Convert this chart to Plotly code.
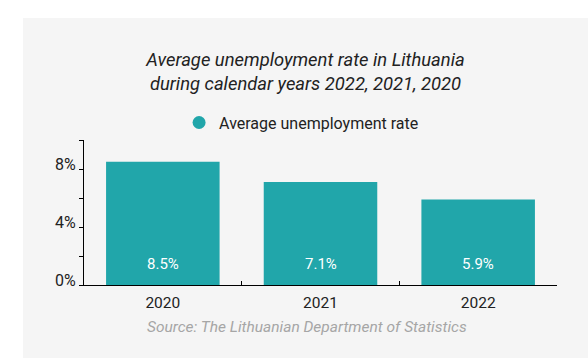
import plotly.graph_objects as go

years = ["2020", "2021", "2022"]
rates = [8.5, 7.1, 5.9]
bar_labels = ["8.5%", "7.1%", "5.9%"]
ytick_vals = [0, 2, 4, 6, 8, 10]
ytick_text = ["0%", "", "4%", "", "8%", ""]
series_name = "Average unemployment rate"
title_text = "Average unemployment rate in Lithuania<br>during calendar years 2022, 2021, 2020"
source_text = "Source: The Lithuanian Department of Statistics"

TEAL = "#21a6aa"
FONT = "Roboto"

fig = go.Figure()
fig.add_trace(go.Bar(x=years, y=rates, marker=dict(color=TEAL, line=dict(width=0)),
                     showlegend=False, hoverinfo="skip"))
fig.add_trace(go.Scatter(x=[years[0]], y=[None], mode="markers", name=series_name,
                         marker=dict(symbol="circle", size=13, color=TEAL),
                         showlegend=True, hoverinfo="skip"))

# value labels near the bar bases (category axis: annotations use category index)
for i, lab in enumerate(bar_labels):
    fig.add_annotation(x=i, y=0, text=lab, showarrow=False, yshift=21,
                       yanchor="middle", font=dict(family=FONT, size=15, color="white"))

fig.add_annotation(xref="paper", yref="paper", x=0.4715, y=-0.29, text=source_text,
                   showarrow=False, xanchor="center", yanchor="middle",
                   font=dict(family=FONT, size=15.5, color="#a6a6a6", style="italic"))

# grey panel behind the chart
fig.add_shape(type="rect", xref="paper", yref="paper", x0=-0.129, x1=1.07, y0=-0.6, y1=1.841,
              fillcolor="#f5f5f5", line=dict(width=0), layer="below")

fig.update_layout(
    width=588, height=358,
    margin=dict(l=84, r=31, t=140, b=73, autoexpand=False),
    paper_bgcolor="white", plot_bgcolor="rgba(0,0,0,0)",
    bargap=0.28,
    font=dict(family=FONT, color="#222222"),
    title=dict(text=title_text, x=0.5196, xref="container", xanchor="center",
               y=1 - 66 / 358, yref="container", yanchor="middle",
               font=dict(family=FONT, size=18.4, color="#222222", style="italic")),
    legend=dict(orientation="h", x=0.46, xanchor="center", y=1.12, yanchor="middle",
                bgcolor="rgba(0,0,0,0)", font=dict(family=FONT, size=16, color="#222222"),
                itemwidth=30),
    xaxis=dict(type="category", range=[-0.5, 2.5], showline=True, linecolor="black",
               linewidth=1, ticks="inside", tickson="boundaries", ticklen=4,
               tickcolor="black", showgrid=False, ticklabelstandoff=3,
               tickfont=dict(family=FONT, size=15.5, color="#222222"), fixedrange=True),
    yaxis=dict(range=[0, 10], showline=True, linecolor="black", linewidth=1,
               ticks="outside", ticklen=4, tickcolor="black", tickvals=ytick_vals,
               ticktext=ytick_text, showgrid=False, zeroline=False,
               ticklabelshift=-5, ticklabelstandoff=0,
               tickfont=dict(family=FONT, size=16, color="#222222"), fixedrange=True),
)

fig.write_html("out.html")
